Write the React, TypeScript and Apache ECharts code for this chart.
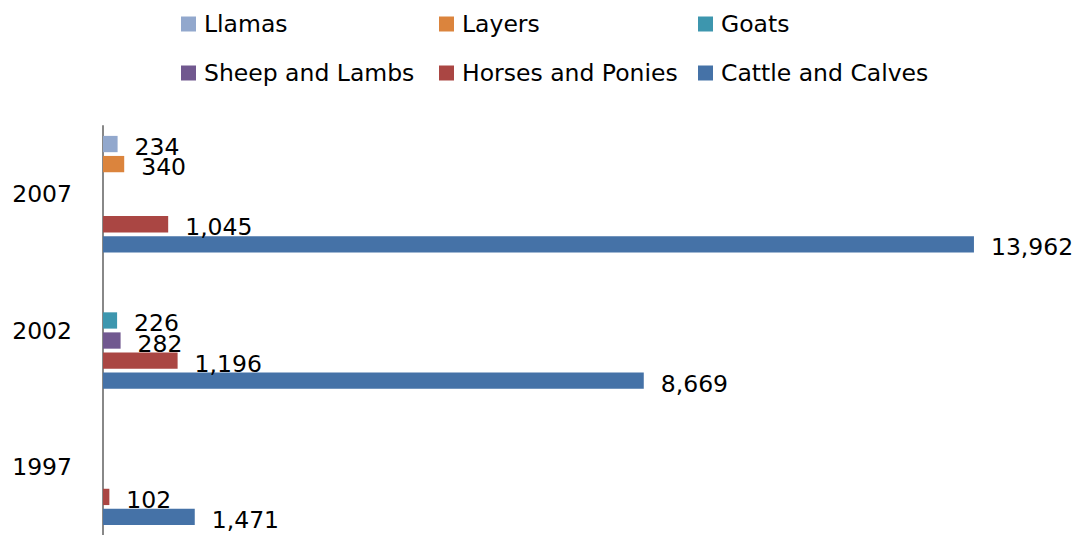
import React, { useEffect, useRef } from "react";
import * as echarts from "echarts";

const categories = ["1997", "2002", "2007"];
const seriesNames = ["Llamas", "Layers", "Goats", "Sheep and Lambs", "Horses and Ponies", "Cattle and Calves"];
const llamas = [null, null, 234];
const layers = [null, null, 340];
const goats = [null, 226, null];
const sheep = [null, 282, null];
const horses = [102, 1196, 1045];
const cattle = [1471, 8669, 13962];
const colors = ["#92A8CD", "#DB843D", "#3D96AE", "#71588F", "#AA4643", "#4572A7"];

const FONT = "DejaVu Sans";
const FS = 23.5;

export default function App() {
  const ref = useRef<HTMLDivElement>(null);
  useEffect(() => {
    if (!ref.current) return;
    const chart = echarts.init(ref.current, undefined, { renderer: "svg" });
    const values = [llamas, layers, goats, sheep, horses, cattle];
    const legendPos = [
      { left: 181, top: 9 },
      { left: 439, top: 9 },
      { left: 698, top: 9 },
      { left: 181, top: 58 },
      { left: 439, top: 58 },
      { left: 698, top: 58 },
    ];
    const legends = seriesNames.map((n, i) => ({
      data: [n],
      left: legendPos[i].left,
      top: legendPos[i].top,
      padding: 0,
      itemWidth: 15,
      itemHeight: 15,
      icon: "rect",
      selectedMode: false,
      textStyle: { fontSize: FS, fontFamily: FONT, color: "#000", lineHeight: 30, padding: [0, 0, 0, 3] },
    }));
    const series = seriesNames.map((n, i) => ({
      name: n,
      type: "bar",
      data: values[i],
      itemStyle: { color: colors[i] },
      barGap: "23%",
      barCategoryGap: "14.5%",
      label: {
        show: true,
        position: "right",
        distance: 17,
        offset: [0, 3],
        color: "#000",
        fontSize: FS,
        fontFamily: FONT,
        formatter: (p: any) => (p.value == null ? "" : Number(p.value).toLocaleString("en-US")),
      },
    }));
    chart.setOption({
      animation: false,
      legend: legends,
      grid: { left: 103, top: 126, width: 935.7, height: 414, containLabel: false },
      xAxis: { type: "value", min: 0, max: 15000, show: false, splitLine: { show: false } },
      yAxis: {
        type: "category",
        data: categories,
        axisTick: { show: false },
        axisLine: { show: true, lineStyle: { color: "#888888", width: 2 } },
        axisLabel: { fontSize: FS, fontFamily: FONT, color: "#000", margin: 31, padding: [4, 0, 0, 0] },
      },
      series,
    });
    return () => chart.dispose();
  }, []);
  return (
    <div
      ref={ref}
      style={{ position: "fixed", left: 0, top: 0, width: 1081, height: 535, background: "#fff" }}
    />
  );
}
